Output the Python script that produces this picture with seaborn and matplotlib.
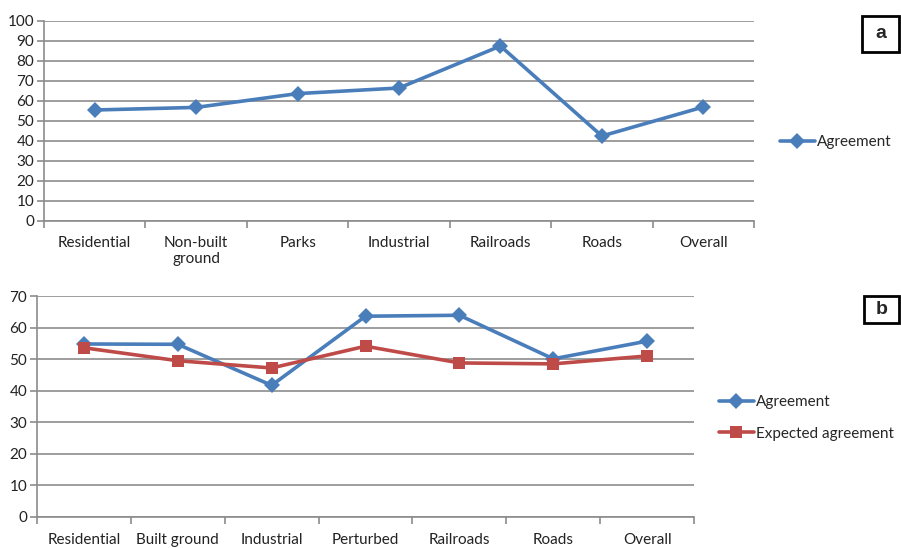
import matplotlib
matplotlib.use("Agg")
import matplotlib.pyplot as plt
from matplotlib.ticker import MultipleLocator, FixedLocator
from matplotlib.lines import Line2D
from matplotlib.patches import Rectangle
import seaborn as sns
import pandas as pd

# ---- data ----
cats_a = ["Residential", "Non-built\nground", "Parks", "Industrial", "Railroads", "Roads", "Overall"]
agree_a = [55.5, 56.8, 63.7, 66.5, 87.5, 42.5, 57.0]

cats_b = ["Residential", "Built ground", "Industrial", "Perturbed", "Railroads", "Roads", "Overall"]
agree_b = [54.8, 54.7, 41.7, 63.6, 63.9, 50.1, 55.7]
expected_b = [53.6, 49.5, 47.2, 54.1, 48.8, 48.5, 51.0]

BLUE = "#4A7EBB"
RED = "#BE4B48"
GRID = "#8C8C8C"
FS = 11

sns.set_theme(style="white")
plt.rcParams["font.family"] = ["Lato", "DejaVu Sans"]

fig = plt.figure(figsize=(9.01, 5.48), dpi=100)
W, H = 901, 548

def add_ax(x0, y0, x1, y1):
    return fig.add_axes([x0 / W, 1 - y1 / H, (x1 - x0) / W, (y1 - y0) / H])

ax_a = add_ax(44, 21, 754, 221)
ax_b = add_ax(37, 296, 694, 517)

def style(ax, ymax, step, xpad):
    ax.set_xlim(-0.5, 6.5)
    ax.set_ylim(0, ymax)
    ax.yaxis.set_major_locator(MultipleLocator(step))
    ax.grid(axis="y", color=GRID, linewidth=1.2)
    ax.grid(axis="x", visible=False)
    ax.set_axisbelow(True)
    for s in ["top", "right"]:
        ax.spines[s].set_visible(False)
    for s in ["left", "bottom"]:
        ax.spines[s].set_color(GRID)
        ax.spines[s].set_linewidth(1.2)
    ax.xaxis.set_minor_locator(FixedLocator([i - 0.5 for i in range(8)]))
    ax.tick_params(axis="x", which="major", length=0, pad=xpad, labelsize=FS, colors="#222222")
    ax.tick_params(axis="x", which="minor", length=5, width=1.2, color=GRID, direction="out", bottom=True)
    ax.tick_params(axis="y", which="major", length=5, width=1.2, color=GRID, left=True, labelsize=FS, pad=2, labelcolor="#222222")
    ax.set_xlabel("")
    ax.set_ylabel("")

df_a = pd.DataFrame({"cat": cats_a, "val": agree_a})
sns.lineplot(data=df_a, x="cat", y="val", ax=ax_a, color=BLUE, linewidth=2.6,
             marker="D", markersize=8, markeredgewidth=0, sort=False)
style(ax_a, 100, 10, 11)

df_b = pd.DataFrame({"cat": cats_b * 2, "val": agree_b + expected_b,
                     "series": ["Agreement"] * 7 + ["Expected agreement"] * 7})
sns.lineplot(data=df_b[df_b.series == "Agreement"], x="cat", y="val", ax=ax_b, color=BLUE,
             linewidth=2.6, marker="D", markersize=8, markeredgewidth=0, sort=False)
sns.lineplot(data=df_b[df_b.series == "Expected agreement"], x="cat", y="val", ax=ax_b, color=RED,
             linewidth=2.6, marker="s", markersize=9, markeredgewidth=0, sort=False)
style(ax_b, 70, 10, 11.5)

# legends
h_agree = Line2D([], [], color=BLUE, linewidth=2.6, marker="D", markersize=8, markeredgewidth=0)
h_exp = Line2D([], [], color=RED, linewidth=2.6, marker="s", markersize=9, markeredgewidth=0)
fig.legend([h_agree], ["Agreement"], loc="center left", bbox_to_anchor=(772 / W, 1 - 142 / H),
           frameon=False, fontsize=FS, handlelength=2.3, handletextpad=0.15, borderpad=0)
fig.legend([h_agree, h_exp], ["Agreement", "Expected agreement"], loc="center left",
           bbox_to_anchor=(711 / W, 1 - 418 / H), frameon=False, fontsize=FS,
           handlelength=2.3, handletextpad=0.15, borderpad=0, labelspacing=1.15)

# panel letters
for (x0, y0, x1, y1, t) in [(862, 16, 899, 52, "a"), (864, 296, 899, 323, "b")]:
    fig.patches.append(Rectangle((x0 / W, 1 - y1 / H), (x1 - x0) / W, (y1 - y0) / H,
                                 transform=fig.transFigure, fill=False, edgecolor="black", linewidth=2))
    fig.text((x0 + x1) / 2 / W, 1 - (y0 + y1) / 2 / H, t, ha="center", va="center",
             fontsize=14, fontweight="bold", family="Liberation Sans")

fig.savefig("out.png", dpi=100)
